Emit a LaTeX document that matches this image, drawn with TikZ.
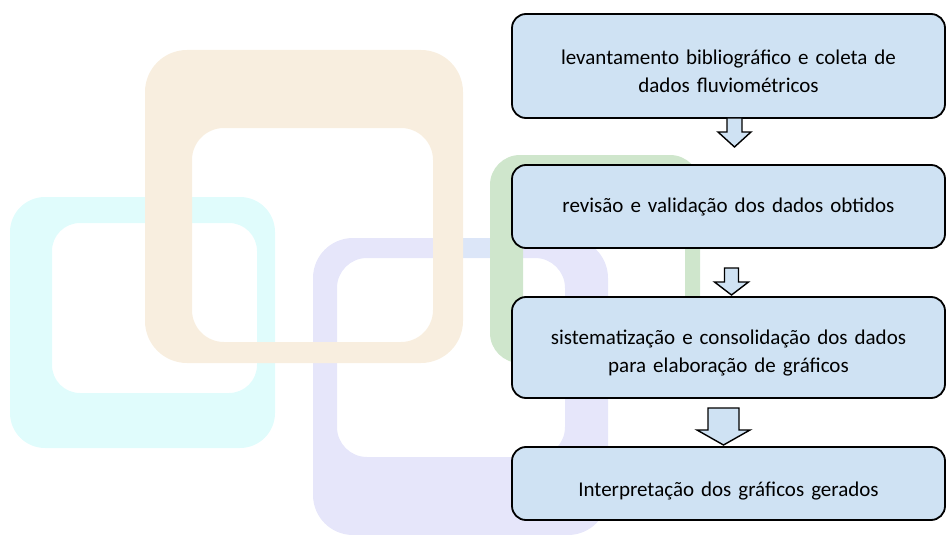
\documentclass[tikz,border=0pt]{standalone}
\usepackage{fontspec}
\setmainfont{Carlito}
\usetikzlibrary{positioning, calc}
\definecolor{boxblue}{RGB}{207,226,243}
\definecolor{framecyan}{RGB}{224,252,252}
\definecolor{frametan}{RGB}{248,238,223}
\definecolor{framelav}{RGB}{230,230,250}
\definecolor{framegreen}{RGB}{207,230,204}
\definecolor{frameblue}{RGB}{220,230,248}
\tikzstyle{stepbox} = [rectangle, rounded corners=14pt, minimum width=433pt, text width=405pt, align=center, inner sep=4pt, outer sep=0pt, draw=black, line width=1.8pt, fill=boxblue, font=\fontsize{21}{28}\selectfont]
\tikzstyle{blockarrow} = [draw=black, line width=1.4pt, fill=boxblue, line join=miter]
\newcommand{\hollowarrow}[5]{%
  \draw[blockarrow] (#1) ++(-#2,0) -- ++(0,#4) -- ++(#2-#3,0) -- ++(#3,#5) -- ++(#3,-#5) -- ++(#2-#3,0) -- ++(0,-#4) -- cycle;}

\begin{document}
\begin{tikzpicture}[x=1pt, y=-1pt]
\useasboundingbox (0,0) rectangle (946,535);

% background frames
\fill[framecyan, even odd rule] [rounded corners=35pt] (10,197) rectangle (275,448) [rounded corners=28pt] (52,223) rectangle (257,393);
\fill[framelav, even odd rule] [rounded corners=40pt] (313,238) rectangle (608,535) [rounded corners=30pt] (337,258) rectangle (565,457);
\fill[frameblue] (463,238) rectangle (490,258);
\fill[framegreen, even odd rule] [rounded corners=30pt] (490,155) rectangle (700,363) [rounded corners=20pt] (523,185) rectangle (685,340);
\fill[frametan, even odd rule] [rounded corners=42pt] (145,50) rectangle (463,363) [rounded corners=32pt] (192,128) rectangle (433,342);

% steps
\node (survey) [stepbox, text height=25pt, minimum height=104pt] at (728.5,66) {levantamento bibliográfico e coleta de\\ dados fluviométricos};
\node (review) [stepbox, minimum height=83pt, below=47pt of survey] {revisão e validação dos dados obtidos};
\node (consolidate) [stepbox, text height=26pt, minimum height=101pt, below=49pt of review] {sistematização e consolidação dos dados\\ para elaboração de gráficos};
\node (interpret) [stepbox, text height=29pt, minimum height=73pt, below=49pt of consolidate] {Interpretação dos gráficos gerados};

% arrows
\coordinate (a1) at ($(survey.south)+(6,0)$);
\coordinate (a2) at ($(review.south)+(3,20)$);
\coordinate (a3) at ($(consolidate.south)+(-5,10)$);
\hollowarrow{a1}{7.5}{16.5}{14}{15}
\hollowarrow{a2}{7}{17}{14}{13}
\hollowarrow{a3}{15.5}{26.5}{22}{15}
\end{tikzpicture}
\end{document}
